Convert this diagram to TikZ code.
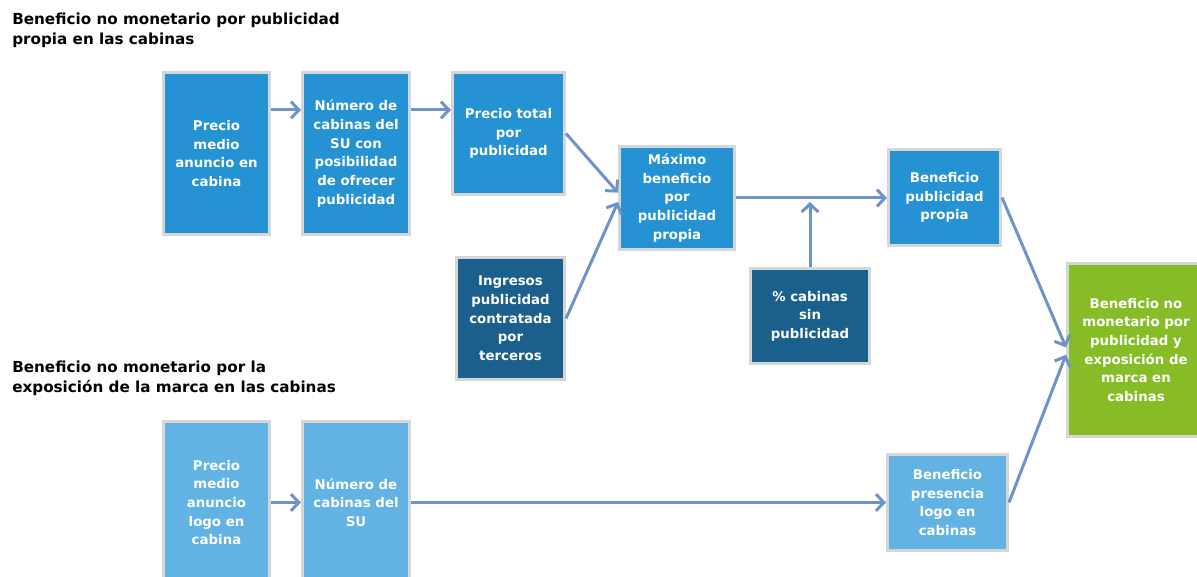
\documentclass[tikz,border=0pt]{standalone}
\usepackage{fontspec}
\setmainfont{DejaVu Sans}
\usetikzlibrary{arrows.meta}
\definecolor{azulmedio}{HTML}{2492D3}
\definecolor{azuloscuro}{HTML}{1B5F8C}
\definecolor{azulclaro}{HTML}{62B3E3}
\definecolor{verde}{HTML}{86BC25}
\definecolor{borde}{HTML}{D6D6D6}
\definecolor{flecha}{HTML}{6F93C8}

\begin{document}
\begin{tikzpicture}[x=0.75pt,y=-0.75pt,
  caja/.style={draw=borde, line width=2.25pt, text=white, align=center, inner sep=0pt,
    font=\fontsize{10}{14}\selectfont\bfseries},
  flechas/.style={draw=flecha, line width=2.25pt, -{Straight Barb[length=6pt,width=12.5pt]}},
  titulo/.style={anchor=north west, align=left, inner sep=0pt,
    font=\fontsize{11.4}{15}\selectfont\bfseries}]

\useasboundingbox (0,0) rectangle (1197,577);

\node[titulo] (tit1) at (12,13) {Beneficio no monetario por publicidad\\propia en las cabinas};
\node[titulo] (tit2) at (12,361) {Beneficio no monetario por la\\exposición de la marca en las cabinas};

\begin{scope}
\node[caja, fill=azulmedio, minimum width=79.5pt, minimum height=121.5pt] (pmedio) at (216.5,153.5) {Precio\\medio\\anuncio en\\cabina};
\node[caja, fill=azulmedio, minimum width=80.25pt, minimum height=121.5pt] (ncabinas) at (356,153.5) {Número de\\cabinas del\\SU con\\posibilidad\\de ofrecer\\publicidad};
\node[caja, fill=azulmedio, minimum width=84pt, minimum height=91.5pt] (ptotal) at (508.5,133.5) {Precio total\\por\\publicidad};
\node[caja, fill=azuloscuro, minimum width=81pt, minimum height=91.5pt] (ingresos) at (510.5,318.5) {Ingresos\\publicidad\\contratada\\por\\terceros};
\node[caja, fill=azulmedio, minimum width=86.25pt, minimum height=77.25pt] (maximo) at (677,198) {Máximo\\beneficio\\por\\publicidad\\propia};
\node[caja, fill=azuloscuro, minimum width=89.25pt, minimum height=71.25pt] (pcabinas) at (810,316) {\% cabinas\\sin\\publicidad};
\node[caja, fill=azulmedio, minimum width=84pt, minimum height=72pt] (benprop) at (944.5,197.5) {Beneficio\\publicidad\\propia};
\node[caja, fill=verde, minimum width=102.75pt, minimum height=129.75pt] (total) at (1136,350) {Beneficio no\\monetario por\\publicidad y\\exposición de\\marca en\\cabinas};

\node[caja, fill=azulclaro, minimum width=79.5pt, minimum height=121.5pt] (plogo) at (216.5,502.5) {Precio\\medio\\anuncio\\logo en\\cabina};
\node[caja, fill=azulclaro, minimum width=80.25pt, minimum height=121.5pt] (ncab2) at (356,502.5) {Número de\\cabinas del\\SU};
\node[caja, fill=azulclaro, minimum width=90pt, minimum height=72pt] (benlogo) at (947.5,502.5) {Beneficio\\presencia\\logo en\\cabinas};
\end{scope}

\coordinate (fila) at (0,110);
\draw[flechas] (pmedio.east |- fila) -- (ncabinas.west |- fila);
\draw[flechas] (ncabinas.east |- fila) -- (ptotal.west |- fila);
\draw[flechas] (ptotal.east) -- ([yshift=4pt]maximo.west);
\draw[flechas] (ingresos.east) -- ([yshift=-3pt]maximo.west);
\draw[flechas] (maximo.east) -- (benprop.west |- maximo.east);
\draw[flechas, shorten >=3pt] (pcabinas.north) -- (pcabinas.north |- maximo.east);
\draw[flechas] (benprop.east) -- ([yshift=2pt]total.west);
\draw[flechas] (benlogo.east) -- ([yshift=-3.5pt]total.west);
\draw[flechas] (plogo.east) -- (ncab2.west);
\draw[flechas] (ncab2.east) -- (benlogo.west);

\end{tikzpicture}
\end{document}
